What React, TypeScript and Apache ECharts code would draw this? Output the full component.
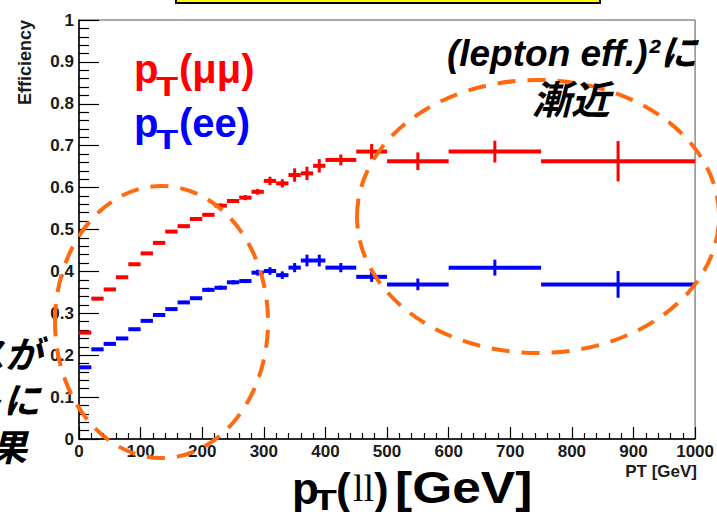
import React, { useEffect, useRef } from "react";
import * as echarts from "echarts";

// Bin edges in pT [GeV]
const binLow = [0, 20, 40, 60, 80, 100, 120, 140, 160, 180, 200, 220, 240, 260, 280, 300, 320, 340, 360, 380, 400, 450, 500, 600, 750];
const binHigh = [20, 40, 60, 80, 100, 120, 140, 160, 180, 200, 220, 240, 260, 280, 300, 320, 340, 360, 380, 400, 450, 500, 600, 750, 1000];

// Efficiency for pT(μμ)
const effMuMu = [0.254, 0.335, 0.357, 0.386, 0.417, 0.443, 0.468, 0.495, 0.508, 0.525, 0.535, 0.557, 0.568, 0.576, 0.59, 0.616, 0.61, 0.63, 0.634, 0.652, 0.666, 0.686, 0.663, 0.686, 0.663];
const errMuMu = [0.002, 0.002, 0.002, 0.002, 0.003, 0.003, 0.003, 0.003, 0.003, 0.004, 0.004, 0.005, 0.005, 0.006, 0.007, 0.01, 0.01, 0.016, 0.016, 0.016, 0.013, 0.018, 0.021, 0.026, 0.048];

// Efficiency for pT(ee)
const effEE = [0.171, 0.214, 0.227, 0.24, 0.262, 0.282, 0.296, 0.31, 0.326, 0.336, 0.356, 0.361, 0.374, 0.377, 0.397, 0.401, 0.391, 0.409, 0.426, 0.426, 0.409, 0.387, 0.369, 0.409, 0.369];
const errEE = [0.002, 0.002, 0.002, 0.002, 0.002, 0.003, 0.003, 0.003, 0.003, 0.003, 0.005, 0.005, 0.005, 0.005, 0.007, 0.009, 0.009, 0.011, 0.014, 0.014, 0.011, 0.012, 0.014, 0.019, 0.032];

const RED = "#ff0000";
const BLUE = "#0000ff";
const ORANGE = "#ff6a10";
const SANS = '"Liberation Sans", Arial, "Noto Sans CJK JP", sans-serif';
const CJK = '"Liberation Sans", "Noto Sans CJK JP", sans-serif';

function histData(eff: number[], err: number[]) {
  return binLow.map((lo, i) => [lo, binHigh[i], eff[i], err[i]]);
}

function errorBarSeries(name: string, data: number[][], color: string) {
  return {
    type: "custom",
    name,
    data,
    encode: { x: [0, 1], y: 2 },
    clip: true,
    renderItem: (_params: any, api: any) => {
      const lo = api.value(0);
      const hi = api.value(1);
      const v = api.value(2);
      const e = api.value(3);
      const mid = (lo + hi) / 2;
      const a = api.coord([lo, v]);
      const b = api.coord([hi, v]);
      const t = api.coord([mid, v + e]);
      const d = api.coord([mid, v - e]);
      return {
        type: "group",
        children: [
          { type: "line", shape: { x1: a[0], y1: a[1], x2: b[0], y2: b[1] }, style: { stroke: color, lineWidth: 4 } },
          { type: "line", shape: { x1: t[0], y1: t[1], x2: d[0], y2: d[1] }, style: { stroke: color, lineWidth: 3 } },
        ],
      };
    },
  };
}

function txt(text: string, x: number, y: number, o: any = {}) {
  const { rotation, scaleX, ...style } = o;
  return {
    type: "text",
    x,
    y,
    rotation: rotation || 0,
    scaleX: scaleX || 1,
    z: 100,
    style: {
      text,
      fontFamily: SANS,
      fontWeight: "bold",
      fill: "#000",
      align: "left",
      textAlign: "left",
      verticalAlign: "middle",
      textVerticalAlign: "middle",
      ...style,
    },
  };
}

export default function App() {
  const ref = useRef<HTMLDivElement>(null);

  useEffect(() => {
    if (!ref.current) return;
    const chart = echarts.init(ref.current, null, { renderer: "svg" });
    const axisLabel = { fontFamily: SANS, fontWeight: "bold", fontSize: 17, color: "#1a1a1a" };

    chart.setOption({
      animation: false,
      backgroundColor: "#ffffff",
      grid: { left: 79, right: 15, top: 20, bottom: 73, show: true, borderColor: "#555", borderWidth: 1 },
      xAxis: {
        type: "value",
        min: 0,
        max: 1000,
        interval: 100,
        axisLine: { show: true, onZero: false, lineStyle: { color: "#000", width: 1.5 } },
        axisTick: { show: true, inside: true, length: 12, lineStyle: { color: "#000", width: 1.2 } },
        minorTick: { show: true, splitNumber: 5, length: 6, lineStyle: { color: "#000", width: 1.2 } },
        splitLine: { show: false },
        axisLabel: { ...axisLabel, margin: 4, formatter: (v: number) => String(Math.round(v)) },
      },
      yAxis: {
        type: "value",
        min: 0,
        max: 1,
        interval: 0.1,
        axisLine: { show: true, onZero: false, lineStyle: { color: "#000", width: 1.5 } },
        axisTick: { show: true, inside: true, length: 20, lineStyle: { color: "#000", width: 1.2 } },
        minorTick: { show: true, splitNumber: 5, length: 10, lineStyle: { color: "#000", width: 1.2 } },
        splitLine: { show: false },
        axisLabel: {
          ...axisLabel,
          margin: 5,
          formatter: (v: number) => (Math.abs(v) < 1e-9 ? "0" : Math.abs(v - 1) < 1e-9 ? "1" : v.toFixed(1)),
        },
      },
      series: [
        errorBarSeries("pT(μμ)", histData(effMuMu, errMuMu), RED),
        errorBarSeries("pT(ee)", histData(effEE, errEE), BLUE),
      ],
      graphic: [
        // title box peeking in at the top
        { type: "rect", z: 100, shape: { x: 176, y: -12, width: 424, height: 15 }, style: { fill: "#ffff00", stroke: "#000", lineWidth: 2 } },
        // y axis title
        txt("Efficiency", 25, 20, { fontSize: 18, rotation: Math.PI / 2, align: "right", textAlign: "right", fill: "#1a1a1a" }),
        // series labels
        txt("p", 134, 69, { fontSize: 40, fill: RED }),
        txt("T", 156, 87, { fontSize: 28, fill: RED, scaleX: 1.3 }),
        txt("(μμ)", 179, 69, { fontSize: 40, fill: RED }),
        txt("p", 134, 123, { fontSize: 40, fill: BLUE }),
        txt("T", 156, 140, { fontSize: 28, fill: BLUE, scaleX: 1.3 }),
        txt("(ee)", 179, 123, { fontSize: 40, fill: BLUE }),
        // annotation at high pT
        txt("(lepton eff.)²に", 697, 53, { fontSize: 37, fontFamily: CJK, fontStyle: "italic", align: "right", textAlign: "right" }),
        txt("漸近", 571, 100, { fontSize: 39, fontFamily: CJK, fontStyle: "italic", align: "center", textAlign: "center" }),
        // annotation at low pT
        txt("アクセプタンスが", 42, 355, { fontSize: 37, fontFamily: CJK, fontStyle: "italic", align: "right", textAlign: "right" }),
        txt("低pTイベントに", 40, 401, { fontSize: 37, fontFamily: CJK, fontStyle: "italic", align: "right", textAlign: "right" }),
        txt("効果", 27, 448, { fontSize: 37, fontFamily: CJK, fontStyle: "italic", align: "right", textAlign: "right" }),
        // highlight ellipses
        { type: "ellipse", z: 90, shape: { cx: 161.5, cy: 322, rx: 106.5, ry: 136 }, style: { fill: "none", stroke: ORANGE, lineWidth: 4, lineDash: [18, 12] } },
        { type: "ellipse", z: 90, shape: { cx: 538, cy: 216.5, rx: 181, ry: 136.5 }, style: { fill: "none", stroke: ORANGE, lineWidth: 4, lineDash: [18, 12] } },
        // axis unit and big x title
        txt("PT [GeV]", 697, 471, { fontSize: 17, align: "right", textAlign: "right", fill: "#1a1a1a" }),
        txt("p", 292, 488, { fontSize: 44 }),
        txt("T", 313, 500, { fontSize: 30, scaleX: 1.3 }),
        txt("(", 336, 488, { fontSize: 44 }),
        txt("ll", 353, 488, { fontSize: 38, fontWeight: "normal", fontFamily: '"Liberation Serif", serif' }),
        txt(")", 374, 488, { fontSize: 44 }),
        txt("[GeV]", 395, 488, { fontSize: 44, scaleX: 1.17 }),
      ],
    });

    return () => chart.dispose();
  }, []);

  return (
    <div
      ref={ref}
      style={{ position: "fixed", left: 0, top: 0, width: 717, height: 512, background: "#fff" }}
    />
  );
}
